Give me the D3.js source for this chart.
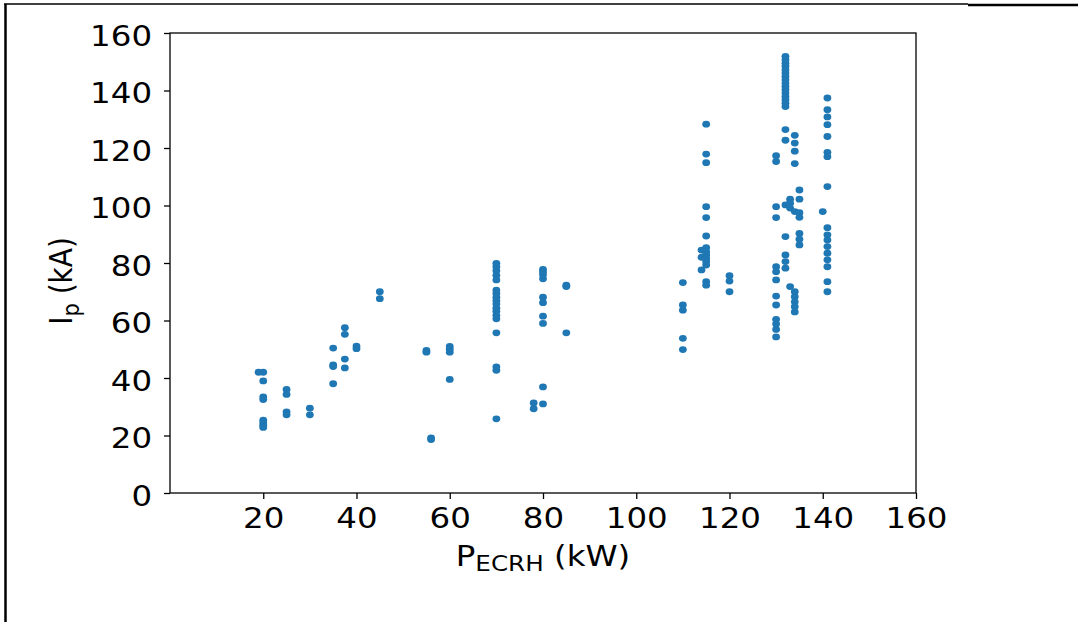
<!DOCTYPE html>
<html>
<head>
<meta charset="utf-8">
<script src="https://cdn.jsdelivr.net/npm/d3@7"></script>
<style>
  html, body { margin: 0; padding: 0; background: #fff; }
  svg { display: block; }
  text { font-family: "DejaVu Sans", sans-serif; fill: #000; }
</style>
</head>
<body>
<svg id="chart" width="1078" height="622"></svg>
<script>
// ECRH heating power (kW) for each group of discharges
const powers = [19, 20, 25, 30, 35, 37.5, 40, 45, 55, 56, 60, 70, 78, 80, 85,
                110, 114, 115, 120, 130, 132, 133, 134, 135, 140, 141];

// plasma current (kA) reached in each discharge of the group
const currents = [
  [42],
  [42, 39, 33.4, 32.5, 25.3, 24.4, 23.6, 22.8],
  [36, 34.3, 28.2, 27.2],
  [29.5, 27.2],
  [50.4, 44.6, 44.0, 38],
  [57.5, 55.2, 46.6, 43.5],
  [51.1, 50.2],
  [70, 67.6],
  [49.6, 49.0],
  [19.2, 18.6],
  [51, 50, 49, 39.5],
  [79.9, 78.7, 77.3, 75.7, 74.1, 70.6, 69.4, 68.1, 66.9, 65.7, 64.3, 63.2, 61.8, 60.6, 55.7, 43.9, 42.7, 25.8],
  [31.3, 29.3],
  [77.8, 76.9, 75.9, 74.5, 68.1, 66.2, 61.5, 59.0, 36.9, 31.0],
  [72.3, 71.8, 55.7],
  [73.2, 65.4, 63.6, 53.8, 49.9],
  [84.5, 82, 77.6],
  [128.3, 117.9, 114.9, 99.6, 95.8, 89.4, 85.3, 83.9, 82.8, 81.6, 80.5, 79.3, 73.5, 72.3],
  [75.6, 73.7, 70.0],
  [117.3, 115.3, 99.6, 95.8, 78.7, 77.0, 74.1, 68.5, 65.4, 60.4, 58.8, 56.9, 54.3],
  [151.9, 150.7, 149.5, 148.4, 147.2, 146.1, 144.9, 143.7, 142.6, 141.4, 140.3, 139.1, 137.9, 136.8, 135.6, 134.4,
   126.4, 122.7, 100.2, 89.2, 82.8, 80.5, 78.2],
  [102.2, 100.8, 99.1, 71.8],
  [124.4, 121.7, 118.9, 114.6, 97.9, 70.0, 68.3, 66.5, 64.8, 63.0],
  [105.4, 102.2, 97.5, 95.9, 90.3, 88.3, 86.3],
  [97.9],
  [137.4, 133.3, 130.8, 128.1, 124.0, 118.5, 117.0, 106.6, 92.3, 89.8, 88.0, 85.7, 83.4, 81.1, 78.7, 73.5, 70.0]
];

const xTicks = [20, 40, 60, 80, 100, 120, 140, 160];
const yTicks = [0, 20, 40, 60, 80, 100, 120, 140, 160];

const points = powers.flatMap((p, i) => currents[i].map(c => ({ p, c })));

const svg = d3.select("#chart");
const plot = { left: 170, right: 916, top: 33, bottom: 493 };
const stretch = 1.12; // horizontal widening of the lettering

const x = d3.scaleLinear().domain([0, 160]).range([plot.left, plot.right]);
const y = d3.scaleLinear().domain([0, 160]).range([plot.bottom, plot.top]);

// page frame lines
svg.append("line").attr("x1", 4).attr("y1", 4).attr("x2", 968).attr("y2", 4)
  .attr("stroke", "#000").attr("stroke-width", 1.5);
svg.append("line").attr("x1", 968).attr("y1", 5).attr("x2", 1078).attr("y2", 5)
  .attr("stroke", "#000").attr("stroke-width", 2.5);
svg.append("line").attr("x1", 5.5).attr("y1", 4).attr("x2", 5.5).attr("y2", 622)
  .attr("stroke", "#000").attr("stroke-width", 2.5);

// scatter points
svg.append("g").selectAll("ellipse").data(points).join("ellipse")
  .attr("cx", d => x(d.p))
  .attr("cy", d => y(d.c))
  .attr("rx", 3.9)
  .attr("ry", 3.4)
  .attr("fill", "#1f77b4");

// axes
const xAxis = svg.append("g").attr("transform", `translate(0,${plot.bottom})`)
  .call(d3.axisBottom(x).tickValues(xTicks).tickSize(6).tickPadding(6).tickFormat(d3.format("d")));
const yAxis = svg.append("g").attr("transform", `translate(${plot.left},0)`)
  .call(d3.axisLeft(y).tickValues(yTicks).tickSize(6).tickPadding(10).tickFormat(d3.format("d")));

[xAxis, yAxis].forEach(g => {
  g.select(".domain").remove();
  g.selectAll("line").attr("stroke", "#000").attr("stroke-width", 1.3);
  g.selectAll("text").attr("font-size", 29).attr("font-family", "DejaVu Sans").attr("fill", "#000")
    .attr("transform", `scale(${stretch},1)`);
});
xAxis.selectAll("text").attr("dy", "0.78em");
yAxis.selectAll("text").attr("dy", "0.43em");

// plot frame
svg.append("rect")
  .attr("x", plot.left).attr("y", plot.top)
  .attr("width", plot.right - plot.left).attr("height", plot.bottom - plot.top)
  .attr("fill", "none").attr("stroke", "#000").attr("stroke-width", 1.3);

// axis titles
const xt = svg.append("text")
  .attr("transform", `translate(${(plot.left + plot.right) / 2},566) scale(${stretch},1)`)
  .attr("text-anchor", "middle").attr("font-size", 29);
xt.append("tspan").text("P");
xt.append("tspan").attr("font-size", 22).attr("dy", 5).text("ECRH");
xt.append("tspan").attr("dy", -5).text(" (kW)");

const yt = svg.append("text")
  .attr("transform", `translate(72,281) rotate(-90) scale(1,${stretch})`)
  .attr("text-anchor", "middle").attr("font-size", 28);
yt.append("tspan").text("I");
yt.append("tspan").attr("font-size", 21).attr("dy", 6).text("p");
yt.append("tspan").attr("dy", -6).text(" (kA)");
</script>
</body>
</html>
